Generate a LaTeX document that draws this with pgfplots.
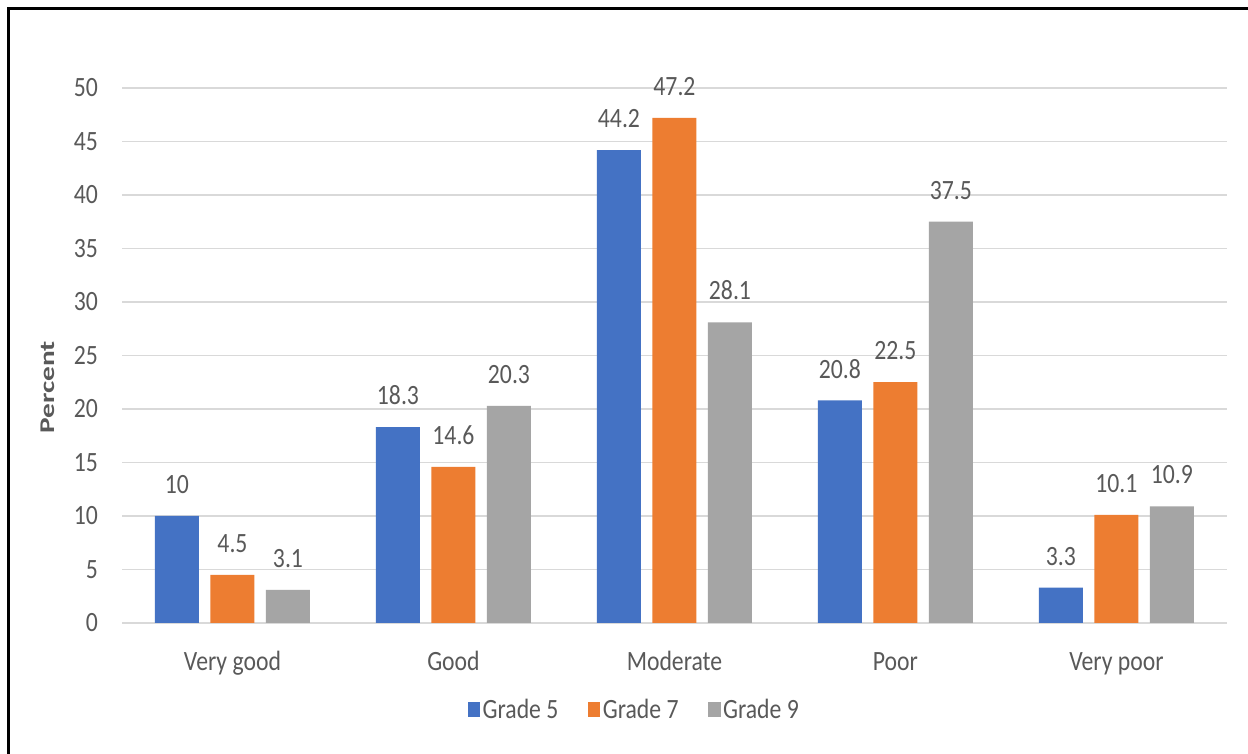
\documentclass[border=0pt]{standalone}
\usepackage{pgfplots}
\pgfplotsset{compat=1.18}
\usepackage{fontspec}
\setmainfont{Carlito}[FakeStretch=0.85]
\newfontfamily\pfont{Carlito}[FakeStretch=1.4]
\definecolor{gblue}{HTML}{4472C4}
\definecolor{gorange}{HTML}{ED7D31}
\definecolor{ggray}{HTML}{A5A5A5}
\definecolor{tgray}{HTML}{595959}
\definecolor{gridc}{HTML}{D9D9D9}
\begin{document}
\begin{tikzpicture}
\path[use as bounding box] (0,0) rectangle (1248bp,754bp);
\fill[white] (0,0) rectangle (1248bp,754bp);
\begin{axis}[
  at={(122bp,131bp)}, anchor=south west,
  scale only axis, width=1105bp, height=535bp,
  ymin=0, ymax=50, ytick={0,5,...,50},
  xmin=-0.5, xmax=4.5, xtick={0,1,2,3,4},
  xticklabels={Very good,Good,Moderate,Poor,Very poor},
  axis line style={draw=none},
  major tick length=0pt,
  ymajorgrids, grid style={color=gridc, line width=1.3bp},
  font=\fontsize{28}{30}\selectfont,
  /pgf/number format/assume math mode=true,
  ticklabel style={text=tgray},
  yticklabel style={anchor=east, inner sep=0pt, xshift=-24bp},
  xticklabel style={anchor=base, inner sep=0pt, yshift=-47bp},
  ybar, bar width=44bp,
  nodes near coords,
  every node near coord/.append style={text=tgray, anchor=south, inner sep=0pt, yshift=22bp},
  legend style={draw=none, fill=none, at={(0.4638,-0.1626)}, anchor=center,
    legend columns=3, font=\fontsize{28}{30}\selectfont,
    /tikz/every even column/.append style={column sep=27bp},
    nodes={inner sep=2.5bp, text=tgray}},
  legend image code/.code={\fill[#1] (0bp,-7.5bp) rectangle (12.5bp,7.5bp);},
]
\addplot[fill=gblue, draw=none, bar shift=-55.5bp] coordinates {(0,10) (1,18.3) (2,44.2) (3,20.8) (4,3.3)};
\addplot[fill=gorange, draw=none, bar shift=0bp] coordinates {(0,4.5) (1,14.6) (2,47.2) (3,22.5) (4,10.1)};
\addplot[fill=ggray, draw=none, bar shift=55.5bp] coordinates {(0,3.1) (1,20.3) (2,28.1) (3,37.5) (4,10.9)};
\legend{Grade 5,Grade 7,Grade 9}
\end{axis}
\node[rotate=90, anchor=base, inner sep=0pt, text=tgray, font=\pfont\bfseries\fontsize{21}{23}\selectfont] at (54bp,366.5bp) {Percent};
\draw[black, line width=3bp] (8.5bp,0) -- (8.5bp,745.5bp) -- (1250bp,745.5bp);
\end{tikzpicture}
\end{document}
